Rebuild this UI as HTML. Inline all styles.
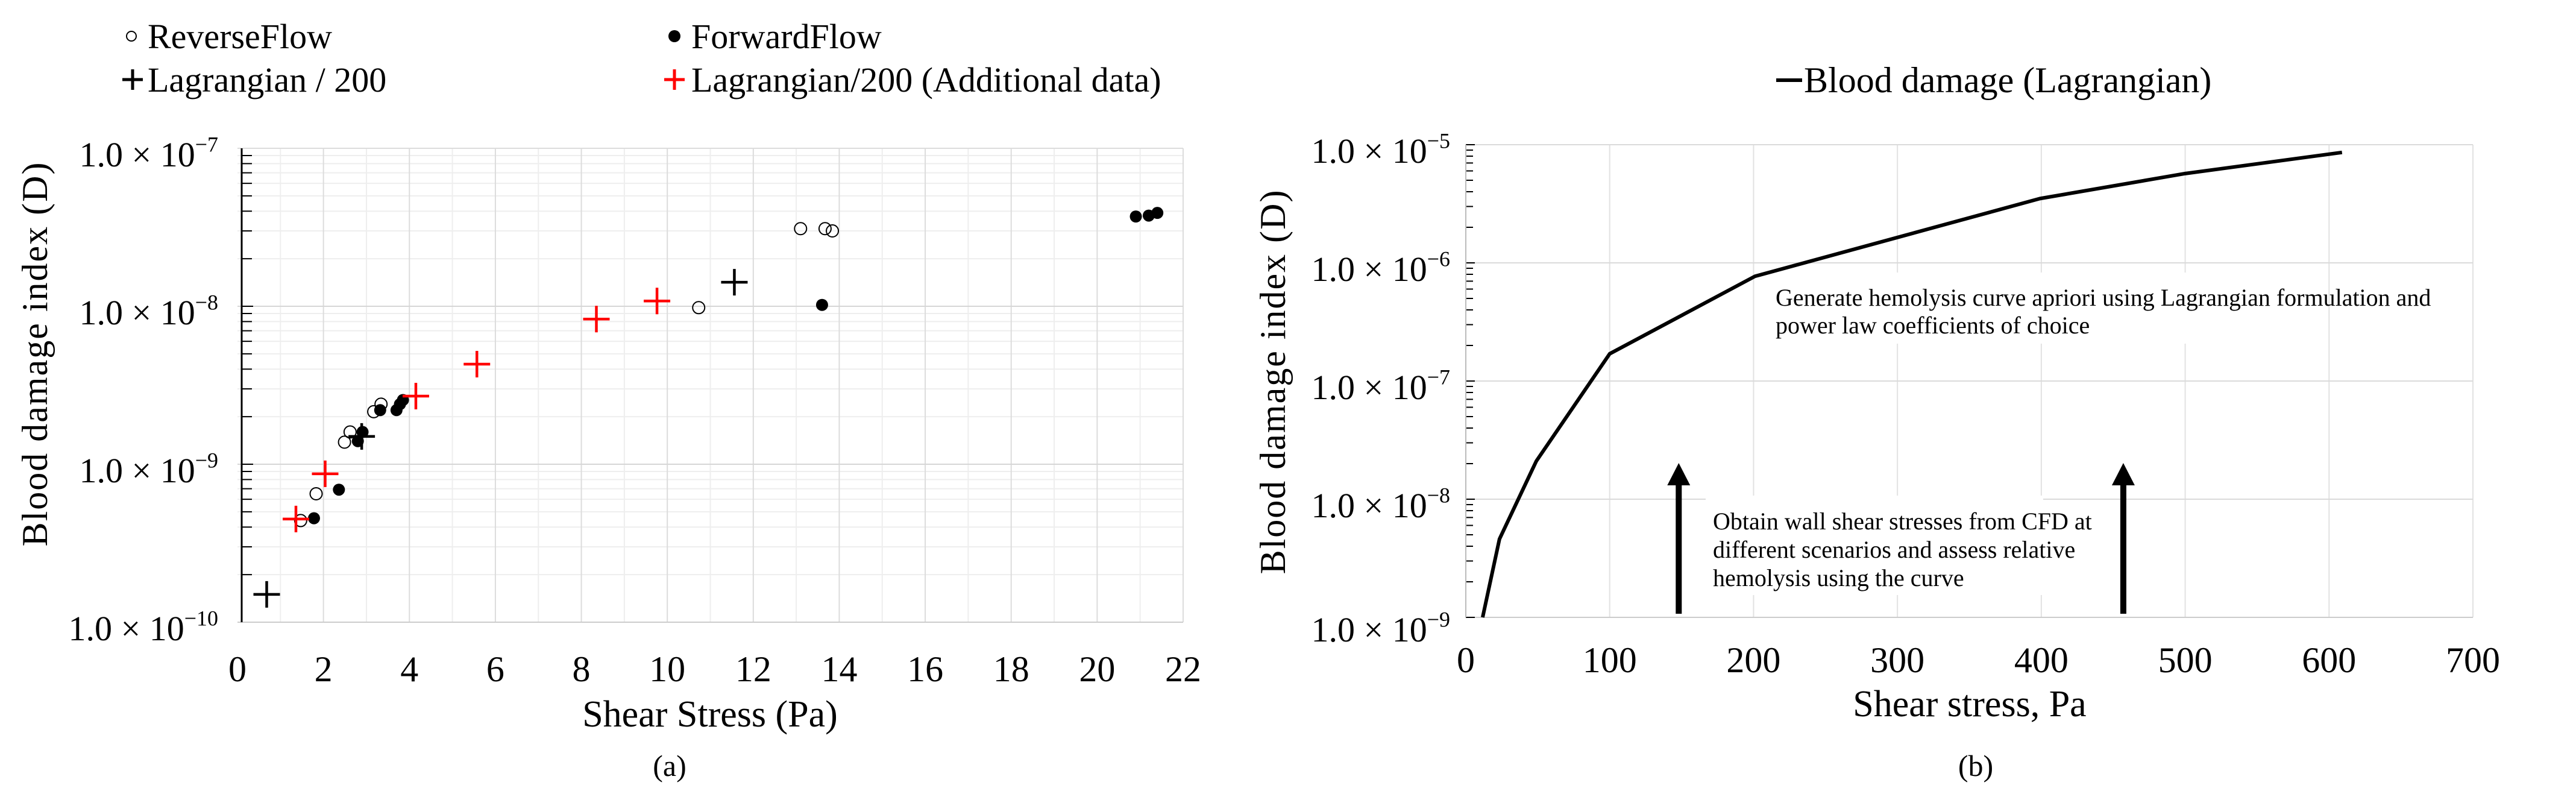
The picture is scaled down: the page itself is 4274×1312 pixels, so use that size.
<!DOCTYPE html>
<html><head><meta charset="utf-8"><style>
html,body{margin:0;padding:0;background:#fff;}
svg, svg text{font-family:"Liberation Serif","Times New Roman",serif;}
</style></head><body>
<svg id="root" width="4274" height="1307" viewBox="0 0 4274 1307" xmlns="http://www.w3.org/2000/svg" font-family="Liberation Serif, Times New Roman, serif">
<g id="chartA"></g>
<g id="chartB"></g>
</svg>
<script>
// ---- Chart (a) data ----
const revX = [1.47,1.83,2.49,2.62,3.17,3.34,10.73,13.1,13.67,13.84];
const revY = [4.4e-10,6.5e-10,1.38e-9,1.6e-9,2.15e-9,2.4e-9,9.8e-9,3.1e-8,3.1e-8,3.0e-8];
const fwdX = [1.78,2.36,2.8,2.91,3.32,3.7,3.78,3.85,13.6,20.9,21.2,21.4];
const fwdY = [4.55e-10,6.9e-10,1.4e-9,1.6e-9,2.2e-9,2.2e-9,2.4e-9,2.55e-9,1.02e-8,3.7e-8,3.75e-8,3.9e-8];
const lagX = [0.68,2.89,11.56];
const lagY = [1.5e-10,1.5e-9,1.42e-8];
const addX = [1.36,2.04,4.15,5.57,8.35,9.76];
const addY = [4.5e-10,8.7e-10,2.7e-9,4.3e-9,8.3e-9,1.08e-8];
const aXTicks = [0,2,4,6,8,10,12,14,16,18,20,22];
const aYExp = [-7,-8,-9,-10];
// ---- Chart (b) data ----
const curveX = [11.7,23.4,49,100,201,399,500,609];
const curveY = [1e-9,4.6e-9,2.1e-8,1.7e-7,7.7e-7,3.5e-6,5.7e-6,8.6e-6];
const bXTicks = [0,100,200,300,400,500,600,700];
const bYExp = [-5,-6,-7,-8,-9];
const arrowX = [148,457];

const NS="http://www.w3.org/2000/svg";
const FF='"Liberation Serif","Times New Roman",serif';
function mk(parent,tag,attrs,text){const e=document.createElementNS(NS,tag);for(const k in attrs)e.setAttribute(k,attrs[k]);if(tag==='text')e.style.fontFamily=FF;if(text!==undefined)e.textContent=text;parent.appendChild(e);return e;}
function sciLabel(parent,x,y,exp,size){
  const t=mk(parent,'text',{x:x,y:y,'font-size':size,'text-anchor':'end',fill:'#000'});
  const a=document.createElementNS(NS,'tspan');a.textContent='1.0 × 10';t.appendChild(a);
  const b=document.createElementNS(NS,'tspan');b.setAttribute('dy',-size*0.42);b.setAttribute('font-size',size*0.62);b.textContent='−'+(-exp);t.appendChild(b);
  return t;
}

// ===== Chart A =====
(function(){
  const g=document.getElementById('chartA');
  const L=394,R=1963,T=246,B=1032;
  const xs=v=>L+(v-0)/22*(R-L);
  const ys=v=>T+(-7-Math.log10(v))/3*(B-T);
  const grid=mk(g,'g',{});
  
  
  for(let d=-10;d<-7;d++){for(let m=2;m<10;m++){const y=ys(m*Math.pow(10,d));mk(grid,'line',{x1:L,x2:R,y1:y,y2:y,stroke:'#eeeeee','stroke-width':2});mk(grid,'line',{x1:401,x2:418,y1:y,y2:y,stroke:'#000','stroke-width':2});}}
  for(let v=1;v<22;v+=2){mk(grid,'line',{x1:xs(v),x2:xs(v),y1:T,y2:B,stroke:'#eeeeee','stroke-width':2});}
  for(let v=2;v<=22;v+=2){mk(grid,'line',{x1:xs(v),x2:xs(v),y1:T,y2:B,stroke:'#dcdcdc','stroke-width':2});}
  aYExp.forEach(e=>{const y=ys(Math.pow(10,e));if(e>-10&&e<-7)mk(grid,'line',{x1:L,x2:R,y1:y,y2:y,stroke:'#d6d6d6','stroke-width':2});mk(grid,'line',{x1:401,x2:420,y1:y,y2:y,stroke:'#000','stroke-width':2});});
  mk(grid,'line',{x1:L,x2:R,y1:T,y2:T,stroke:'#dcdcdc','stroke-width':2});
  mk(grid,'line',{x1:L,x2:R,y1:B,y2:B,stroke:'#cccccc','stroke-width':2});
  mk(grid,'line',{x1:401,x2:401,y1:T,y2:B,stroke:'#000','stroke-width':3});
  aXTicks.forEach(v=>{const t=mk(g,'text',{x:xs(v),y:1130,'font-size':60,'text-anchor':'middle'},String(v));});
  aYExp.forEach(e=>{const t=sciLabel(g,362,ys(Math.pow(10,e))+30,e,58);});
  const xt=mk(g,'text',{x:1178,y:1205,'font-size':62,'text-anchor':'middle'},'Shear Stress (Pa)');
  
  const yt=mk(g,'text',{x:0,y:0,'font-size':60,'text-anchor':'middle',transform:'translate(78,587) rotate(-90)','letter-spacing':'2'},'Blood damage index (D)');
  
  const cap=mk(g,'text',{x:1111,y:1287,'font-size':50,'text-anchor':'middle'},'(a)');
  
  function plus(x,y,col,sz){const p=mk(g,'g',{});mk(p,'line',{x1:x-sz,x2:x+sz,y1:y,y2:y,stroke:col,'stroke-width':4.5});mk(p,'line',{x1:x,x2:x,y1:y-sz,y2:y+sz,stroke:col,'stroke-width':4.5});return p;}
  revX.forEach((v,i)=>{const c=mk(g,'circle',{cx:xs(v),cy:ys(revY[i]),r:10,fill:'none',stroke:'#000','stroke-width':2});});
  fwdX.forEach((v,i)=>{const c=mk(g,'circle',{cx:xs(v),cy:ys(fwdY[i]),r:10,fill:'#000'});});
  lagX.forEach((v,i)=>{const p=plus(xs(v),ys(lagY[i]),'#000',22);});
  addX.forEach((v,i)=>{const p=plus(xs(v),ys(addY[i]),'#ff0000',22);});
  const lg=mk(g,'g',{});
  
  mk(lg,'circle',{cx:218,cy:60,r:8,fill:'none',stroke:'#000','stroke-width':2});
  mk(lg,'text',{x:245,y:80,'font-size':58},'ReverseFlow');
  mk(lg,'circle',{cx:1119,cy:60,r:10,fill:'#000'});
  mk(lg,'text',{x:1147,y:80,'font-size':58},'ForwardFlow');
  mk(lg,'line',{x1:203,x2:237,y1:132,y2:132,stroke:'#000','stroke-width':5});
  mk(lg,'line',{x1:220,x2:220,y1:115,y2:149,stroke:'#000','stroke-width':5});
  mk(lg,'text',{x:245,y:152,'font-size':58},'Lagrangian / 200');
  mk(lg,'line',{x1:1102,x2:1136,y1:132,y2:132,stroke:'#ff0000','stroke-width':5});
  mk(lg,'line',{x1:1119,x2:1119,y1:115,y2:149,stroke:'#ff0000','stroke-width':5});
  mk(lg,'text',{x:1147,y:152,'font-size':58},'Lagrangian/200 (Additional data)');
})();

// ===== Chart B =====
(function(){
  const g=document.getElementById('chartB');
  const L=2432,R=4103,T=240,B=1024;
  const xs=v=>L+v/700*(R-L);
  const ys=v=>T+(-5-Math.log10(v))/4*(B-T);
  const grid=mk(g,'g',{});
  
  bXTicks.forEach(v=>{if(v>0)mk(grid,'line',{x1:xs(v),x2:xs(v),y1:T,y2:B,stroke:'#e2e2e2','stroke-width':2});});
  bYExp.forEach(e=>{const y=ys(Math.pow(10,e));mk(grid,'line',{x1:L,x2:R,y1:y,y2:y,stroke:e==-9?'#cccccc':'#dadada','stroke-width':2});mk(grid,'line',{x1:L,x2:L+15,y1:y,y2:y,stroke:'#000','stroke-width':2});});
  for(let d=-9;d<-5;d++){for(let m=2;m<10;m++){const y=ys(m*Math.pow(10,d));mk(grid,'line',{x1:L,x2:L+12,y1:y,y2:y,stroke:'#000','stroke-width':2});}}
  mk(grid,'line',{x1:L,x2:L,y1:T,y2:B,stroke:'#bbbbbb','stroke-width':2});
  bXTicks.forEach(v=>{const t=mk(g,'text',{x:xs(v),y:1115,'font-size':60,'text-anchor':'middle'},String(v));});
  bYExp.forEach(e=>{const t=sciLabel(g,2406,ys(Math.pow(10,e))+(e==-9?40:30),e,58);});
  mk(g,'rect',{x:2930,y:452,width:900,height:118,fill:'#fff'});
  mk(g,'rect',{x:2830,y:822,width:560,height:165,fill:'#fff'});
  const pts=curveX.map((v,i)=>xs(v)+','+ys(curveY[i])).join(' ');
  const pl=mk(g,'polyline',{points:pts,fill:'none',stroke:'#000','stroke-width':6,'stroke-linejoin':'round'});
  
  arrowX.forEach(v=>{const a=mk(g,'g',{});
    const x=xs(v);mk(a,'line',{x1:x,x2:x,y1:1018,y2:800,stroke:'#000','stroke-width':10});mk(a,'polygon',{points:`${x-19},805 ${x},768 ${x+19},805`,fill:'#000'});});
  const a1=mk(g,'text',{x:2946,y:507,'font-size':40},'Generate hemolysis curve apriori using Lagrangian formulation and');
  
  mk(g,'text',{x:2946,y:553,'font-size':40},'power law coefficients of choice');
  const a2=mk(g,'text',{x:2842,y:878,'font-size':40},'Obtain wall shear stresses from CFD at');
  
  mk(g,'text',{x:2842,y:925,'font-size':40},'different scenarios and assess relative');
  mk(g,'text',{x:2842,y:972,'font-size':40},'hemolysis using the curve');
  const xt=mk(g,'text',{x:3268,y:1188,'font-size':62,'text-anchor':'middle'},'Shear stress, Pa');
  
  const yt=mk(g,'text',{x:0,y:0,'font-size':60,'text-anchor':'middle',transform:'translate(2132,633) rotate(-90)','letter-spacing':'2'},'Blood damage index (D)');
  
  const cap=mk(g,'text',{x:3278,y:1287,'font-size':50,'text-anchor':'middle'},'(b)');
  
  const lg=mk(g,'g',{});
  mk(lg,'line',{x1:2947,x2:2990,y1:133,y2:133,stroke:'#000','stroke-width':6});
  mk(lg,'text',{x:2993,y:153,'font-size':60},'Blood damage (Lagrangian)');
})();
</script>
</body></html>
